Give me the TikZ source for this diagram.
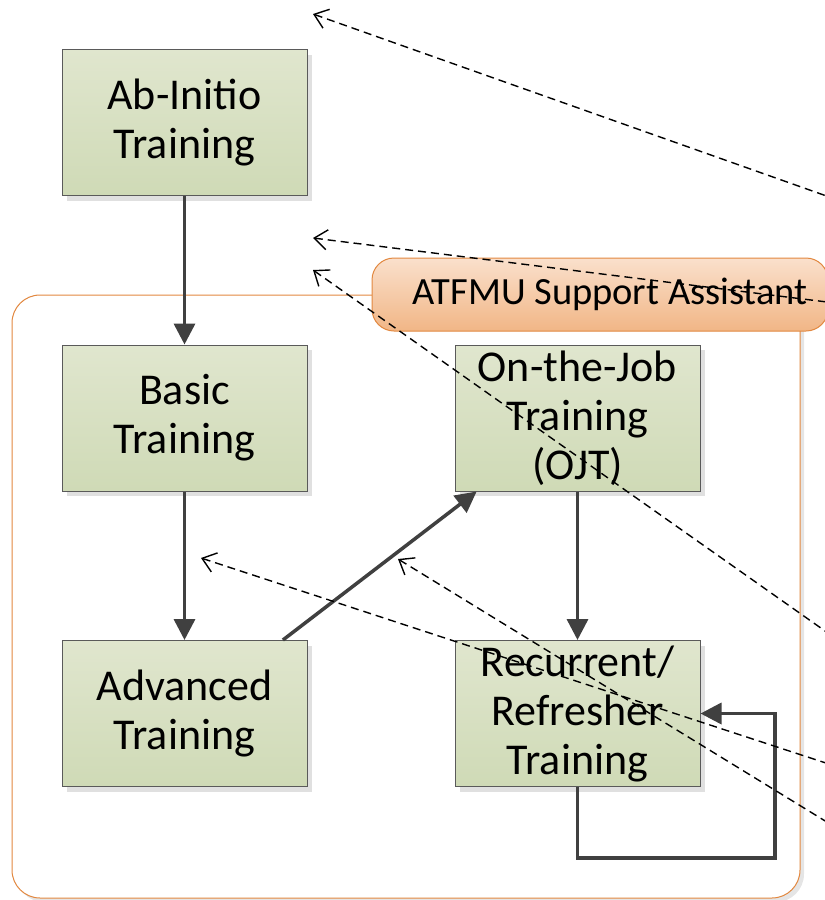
\documentclass[tikz,border=0pt]{standalone}
\usepackage{fontspec}
\setmainfont{Carlito}
\usetikzlibrary{arrows.meta}
\usetikzlibrary{calc}
\usetikzlibrary{shadows}

\definecolor{boxtop}{RGB}{224,230,206}
\definecolor{boxbottom}{RGB}{207,218,182}
\definecolor{boxline}{RGB}{90,90,90}
\definecolor{grouporange}{RGB}{226,136,64}
\definecolor{labeltop}{RGB}{250,224,204}
\definecolor{labelbottom}{RGB}{241,182,134}
\definecolor{flowgray}{RGB}{64,64,64}

\begin{document}
\begin{tikzpicture}
	[x=1pt, y=-1pt]

\tikzstyle{stage}=[draw=boxline, line width=1pt,
	top color=boxtop, bottom color=boxbottom,
	minimum width=245pt, minimum height=146pt, inner sep=0pt,
	align=center, font=\fontsize{44}{49}\selectfont,
	drop shadow={shadow xshift=5pt, shadow yshift=-5pt, fill=black!12, opacity=1}]
\tikzstyle{flow}=[color=flowgray, line width=3.5pt,
	-{Triangle[length=21pt,width=21pt]}]
\tikzstyle{link}=[black, line width=1.4pt, dash pattern=on 8pt off 5pt,
	{Straight Barb[length=13pt,width=20pt]}-]

\def\ColLeft{184.5}
\def\ColRight{577.5}
\def\RowTop{122.5}
\def\RowMid{418}
\def\RowLow{713.5}

\useasboundingbox (0,0) rectangle (825,900);

% Group frame
\node (group) at (406,596.5)
	[draw=grouporange, line width=1pt, fill=white, rounded corners=28pt,
	minimum width=788pt, minimum height=603pt,
	drop shadow={shadow xshift=4pt, shadow yshift=-4pt, fill=black!10, opacity=1}] {};

% Group label
\node (grouplabel) at (600,294.5)
	[draw=grouporange, line width=1pt, top color=labeltop, bottom color=labelbottom,
	rounded corners=22pt, minimum width=456pt, minimum height=73pt, inner sep=0pt,
	font=\fontsize{38.5}{42}\selectfont]
	{\hspace*{20pt}ATFMU Support Assistant};

% Training stages
\node (abinitio) at (\ColLeft, \RowTop) [stage] {Ab-Initio\\Training};
\node (basic) at (\ColLeft, \RowMid) [stage] {Basic\\Training};
\node (advanced) at (\ColLeft, \RowLow) [stage] {Advanced\\Training};
\node (ojt) at (\ColRight, \RowMid) [stage] {On-the-Job\\Training\\(OJT)};
\node (recurrent) at (\ColRight, \RowLow) [stage] {Recurrent/\\Refresher\\Training};

% Flow between stages
\draw[flow] (abinitio.south) -- (basic.north);
\draw[flow] (basic.south) -- (advanced.north);
\draw[flow]
	($(advanced.north east)!0.1!(advanced.north west)$) --
	($(ojt.south west)!0.09!(ojt.south east)$);
\draw[flow] (ojt.south) -- (recurrent.north);

% Repeated refresher loop
\coordinate (loop) at (775,858);
\draw[flow] (recurrent.south) |- (loop) |- (recurrent.east);

% Dashed references
\coordinate (tipA) at (313,14);
\coordinate (endA) at (835,199);
\coordinate (tipB) at (313,238);
\coordinate (endB) at (835,303);
\coordinate (tipC) at (313,270);
\coordinate (endC) at (835,638);
\coordinate (tipD) at (201,558);
\coordinate (endD) at (835,766);
\coordinate (tipE) at (398,559);
\coordinate (endE) at (835,827);

\draw[link] (tipA) -- (endA);
\draw[link] (tipB) -- (endB);
\draw[link] (tipC) -- (endC);
\draw[link] (tipD) -- (endD);
\draw[link] (tipE) -- (endE);

\end{tikzpicture}
\end{document}
